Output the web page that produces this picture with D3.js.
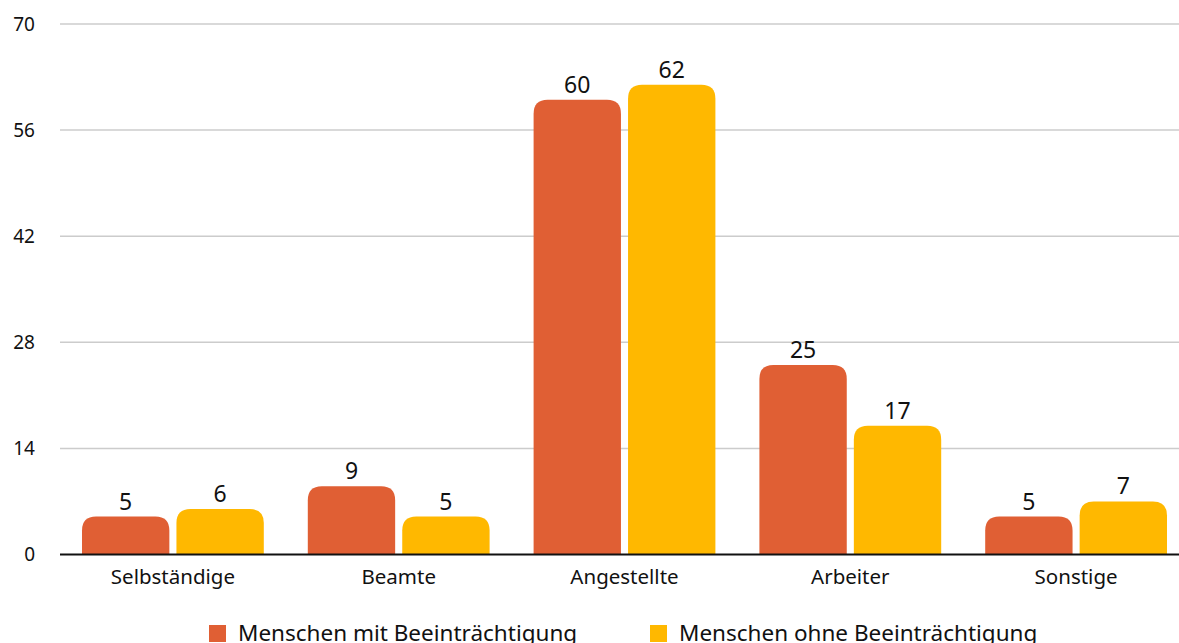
<!doctype html>
<html lang="de">
<head>
<meta charset="utf-8">
<title>Berufsgruppen</title>
<script src="https://cdn.jsdelivr.net/npm/d3@7"></script>
<style>
  html, body { margin: 0; padding: 0; background: #fff; }
  body { font-family: "Noto Sans", "Open Sans", sans-serif; }
  svg { display: block; }
  .grid line { stroke: #cccccc; stroke-width: 1.5px; }
  .tick-label { font-size: 19px; fill: #111; }
  .cat-label { font-size: 20.5px; fill: #111; }
  .value-label { font-size: 23px; fill: #111; }
  .legend-text { font-size: 22.5px; fill: #111; }
</style>
</head>
<body>
<div id="chart"></div>
<script>
  var categories = ["Selbständige", "Beamte", "Angestellte", "Arbeiter", "Sonstige"];
  var seriesNames = ["Menschen mit Beeinträchtigung", "Menschen ohne Beeinträchtigung"];
  var mitValues = [5, 9, 60, 25, 5];
  var ohneValues = [6, 5, 62, 17, 7];
  var yTicks = [0, 14, 28, 42, 56, 70];
  var colors = ["#e05f34", "#ffb800"];

  var width = 1179, height = 643;

  var svg = d3.select("#chart").append("svg")
      .attr("width", width)
      .attr("height", height);

  var x = d3.scaleBand()
      .domain(categories)
      .range([60, 1189])
      .paddingInner(0)
      .paddingOuter(0);

  var x1 = d3.scaleBand()
      .domain([0, 1])
      .range([22, x.bandwidth() - 22])
      .paddingInner(0.075);

  var y = d3.scaleLinear()
      .domain([0, 70])
      .range([554.5, 24]);

  // gridlines
  svg.append("g").attr("class", "grid")
    .selectAll("line")
    .data(yTicks.filter(function(d) { return d > 0; }))
    .enter().append("line")
      .attr("x1", 60).attr("x2", width)
      .attr("y1", function(d) { return y(d); })
      .attr("y2", function(d) { return y(d); });

  // y tick labels
  svg.append("g")
    .selectAll("text")
    .data(yTicks)
    .enter().append("text")
      .attr("class", "tick-label")
      .attr("x", 35)
      .attr("y", function(d) { return y(d); })
      .attr("dy", "0.35em")
      .attr("text-anchor", "end")
      .text(function(d) { return d; });

  var rows = categories.map(function(c, i) {
    return { cat: c, vals: [mitValues[i], ohneValues[i]] };
  });

  // bar with rounded top corners
  function bar(x0, w, yTop, yBase, r) {
    r = Math.min(r, (yBase - yTop), w / 2);
    return "M" + x0 + "," + yBase +
      "V" + (yTop + r) +
      "Q" + x0 + "," + yTop + " " + (x0 + r) + "," + yTop +
      "H" + (x0 + w - r) +
      "Q" + (x0 + w) + "," + yTop + " " + (x0 + w) + "," + (yTop + r) +
      "V" + yBase + "Z";
  }

  var groups = svg.append("g")
    .selectAll("g")
    .data(rows)
    .enter().append("g")
      .attr("transform", function(d) { return "translate(" + x(d.cat) + ",0)"; });

  groups.selectAll("path")
    .data(function(d) { return d.vals.map(function(v, i) { return { v: v, s: i }; }); })
    .enter().append("path")
      .attr("fill", function(d) { return colors[d.s]; })
      .attr("d", function(d) {
        return bar(x1(d.s), x1.bandwidth(), y(d.v), y(0), 14);
      });

  groups.selectAll("text.value-label")
    .data(function(d) { return d.vals.map(function(v, i) { return { v: v, s: i }; }); })
    .enter().append("text")
      .attr("class", "value-label")
      .attr("x", function(d) { return x1(d.s) + x1.bandwidth() / 2; })
      .attr("y", function(d) { return y(d.v) - 7; })
      .attr("text-anchor", "middle")
      .text(function(d) { return d.v; });

  // baseline
  svg.append("line")
    .attr("x1", 60).attr("x2", width)
    .attr("y1", y(0)).attr("y2", y(0))
    .attr("stroke", "#111").attr("stroke-width", 2);

  // category labels
  svg.append("g")
    .selectAll("text")
    .data(categories)
    .enter().append("text")
      .attr("class", "cat-label")
      .attr("x", function(d) { return x(d) + x.bandwidth() / 2; })
      .attr("y", 584)
      .attr("text-anchor", "middle")
      .text(function(d) { return d; });

  // legend
  var legendX = [209, 650];
  var legend = svg.append("g")
    .selectAll("g")
    .data(seriesNames)
    .enter().append("g")
      .attr("transform", function(d, i) { return "translate(" + legendX[i] + ",625)"; });

  legend.append("rect")
    .attr("width", 17).attr("height", 17)
    .attr("fill", function(d, i) { return colors[i]; });

  legend.append("text")
    .attr("class", "legend-text")
    .attr("x", 29)
    .attr("y", 16)
    .text(function(d) { return d; });
</script>
</body>
</html>
